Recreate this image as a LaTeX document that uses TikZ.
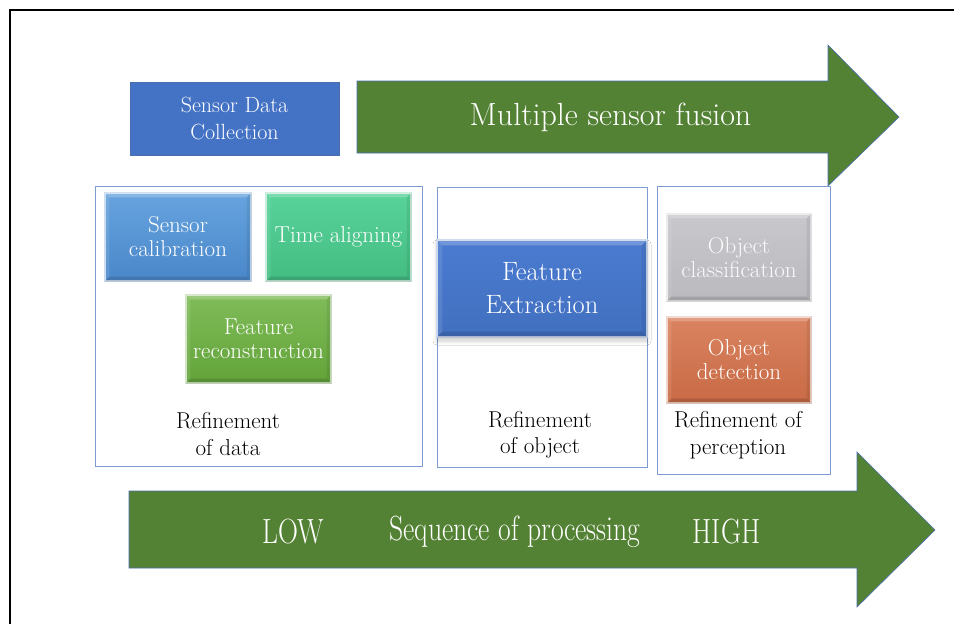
\documentclass[tikz,border=0pt]{standalone}
\usepackage{fontspec}
\usetikzlibrary{shadows.blur,calc}

\definecolor{fillblue}{HTML}{4472C4}
\definecolor{darkgreen}{HTML}{548235}
\definecolor{edgeblue}{HTML}{4A6FB0}
\definecolor{frameblue}{HTML}{7E9BD2}
\definecolor{calibtop}{HTML}{66A3DE}
\definecolor{calibbot}{HTML}{4A87CA}
\definecolor{timetop}{HTML}{58D399}
\definecolor{timebot}{HTML}{44BD83}
\definecolor{recontop}{HTML}{80BC59}
\definecolor{reconbot}{HTML}{62A339}
\definecolor{classtop}{HTML}{C8C7CC}
\definecolor{classbot}{HTML}{BAB9BE}
\definecolor{detecttop}{HTML}{DA8360}
\definecolor{detectbot}{HTML}{C86A45}
\definecolor{feattop}{HTML}{4A7BD0}
\definecolor{featbot}{HTML}{4270C0}

\tikzset{
  x=1pt, y=-1pt,
  groupbox/.style={draw=frameblue, line width=0.9pt, fill=white},
  bevelbox/.style={draw=white!70!#1, line width=1.2pt, text=white, align=center,
    inner sep=2pt, font=\fontsize{23}{24}\selectfont},
  flatbox/.style={draw=edgeblue, line width=0.6pt, fill=fillblue, text=white, align=center,
    font=\fontsize{22}{27}\selectfont},
  bigarrow/.style={fill=darkgreen, draw=edgeblue, line width=0.6pt},
  arrowtext/.style={text=white, inner sep=0pt},
  seqtext/.style={arrowtext, xscale=0.79, font=\fontsize{35}{38}\selectfont},
  caption/.style={align=center, text=black, font=\fontsize{23}{26.5}\selectfont},
}

% bevelled facets along the rim of a named node
\newcommand{\rimfacets}[2]{%
  \fill[white, opacity=0.22] (#1.north west) -- (#1.north east)
    -- ($(#1.north east)+(-#2,#2)$) -- ($(#1.north west)+(#2,#2)$) -- cycle;
  \fill[white, opacity=0.10] (#1.north west) -- ($(#1.north west)+(#2,#2)$)
    -- ($(#1.south west)+(#2,-#2)$) -- (#1.south west) -- cycle;
  \fill[black, opacity=0.07] (#1.north east) -- ($(#1.north east)+(-#2,#2)$)
    -- ($(#1.south east)+(-#2,-#2)$) -- (#1.south east) -- cycle;
  \fill[black, opacity=0.13] (#1.south west) -- ($(#1.south west)+(#2,-#2)$)
    -- ($(#1.south east)+(-#2,-#2)$) -- (#1.south east) -- cycle;
}

\begin{document}
\begin{tikzpicture}
\useasboundingbox (0,0) rectangle (954,624);
\fill[white] (0,0) rectangle (954,624);

% outer frame
\draw[line width=2.4pt, black] (10,626) -- (10,10) -- (956,10);

% top fusion arrow
\draw[bigarrow] (357,81) -- (828,81) -- (828,45) -- (899,117) -- (828,186) -- (828,153) -- (357,153) -- cycle;
\node[arrowtext, font=\fontsize{32}{36}\selectfont] (fusion) at (610.5,117) {Multiple sensor fusion};

% data collection
\node[flatbox, minimum width=209pt, minimum height=73pt] (collect) at (234.5,118.5)
  {Sensor Data\\Collection};

% group frames
\draw[groupbox] (95,186) rectangle (422,466);
\draw[groupbox] (437,187) rectangle (647,467);
\draw[groupbox] (657,186) rectangle (830,474);

% refinement of data
\node[bevelbox=calibbot, top color=calibtop, bottom color=calibbot,
      minimum width=146pt, minimum height=88pt] (calib) at (178,237) {Sensor\\calibration};
\node[bevelbox=timebot, top color=timetop, bottom color=timebot,
      minimum width=145pt, minimum height=88pt] (timealign) at (338.5,237) {Time aligning};
\node[bevelbox=reconbot, top color=recontop, bottom color=reconbot,
      minimum width=145pt, minimum height=88pt] (recon) at (258.5,339) {Feature\\reconstruction};
\rimfacets{calib}{5}
\rimfacets{timealign}{5}
\rimfacets{recon}{5}
\node[caption] (capdata) at (228,434) {Refinement\\of data};

% refinement of object
\node[bevelbox=featbot, top color=feattop, bottom color=featbot,
      blur shadow={shadow xshift=0pt, shadow yshift=-4pt, shadow blur radius=4pt,
                   shadow blur steps=10, shadow opacity=20},
      font=\fontsize{26.5}{33}\selectfont,
      minimum width=210pt, minimum height=97pt] (feat) at (542,288.5) {Feature\\Extraction};
\rimfacets{feat}{6}
\node[caption] (capobj) at (540,435) {Refinement\\of object};

% refinement of perception
\node[bevelbox=classbot, top color=classtop, bottom color=classbot, text=white!96!gray,
      minimum width=144pt, minimum height=87pt] (classify) at (739,257.5) {Object\\classification};
\node[bevelbox=detectbot, top color=detecttop, bottom color=detectbot,
      minimum width=144pt, minimum height=86pt] (detect) at (739,360) {Object\\detection};
\rimfacets{classify}{5}
\rimfacets{detect}{5}
\node[caption] (capperc) at (738,435) {Refinement of\\perception};

% processing sequence arrow
\draw[bigarrow] (129,491) -- (857,491) -- (857,452) -- (935,530) -- (857,607) -- (857,568) -- (129,568) -- cycle;
\node[seqtext] (low) at (293,532) {LOW};
\node[seqtext] (seq) at (515,532) {Sequence of processing};
\node[seqtext] (high) at (726.5,532) {HIGH};
\end{tikzpicture}
\end{document}
